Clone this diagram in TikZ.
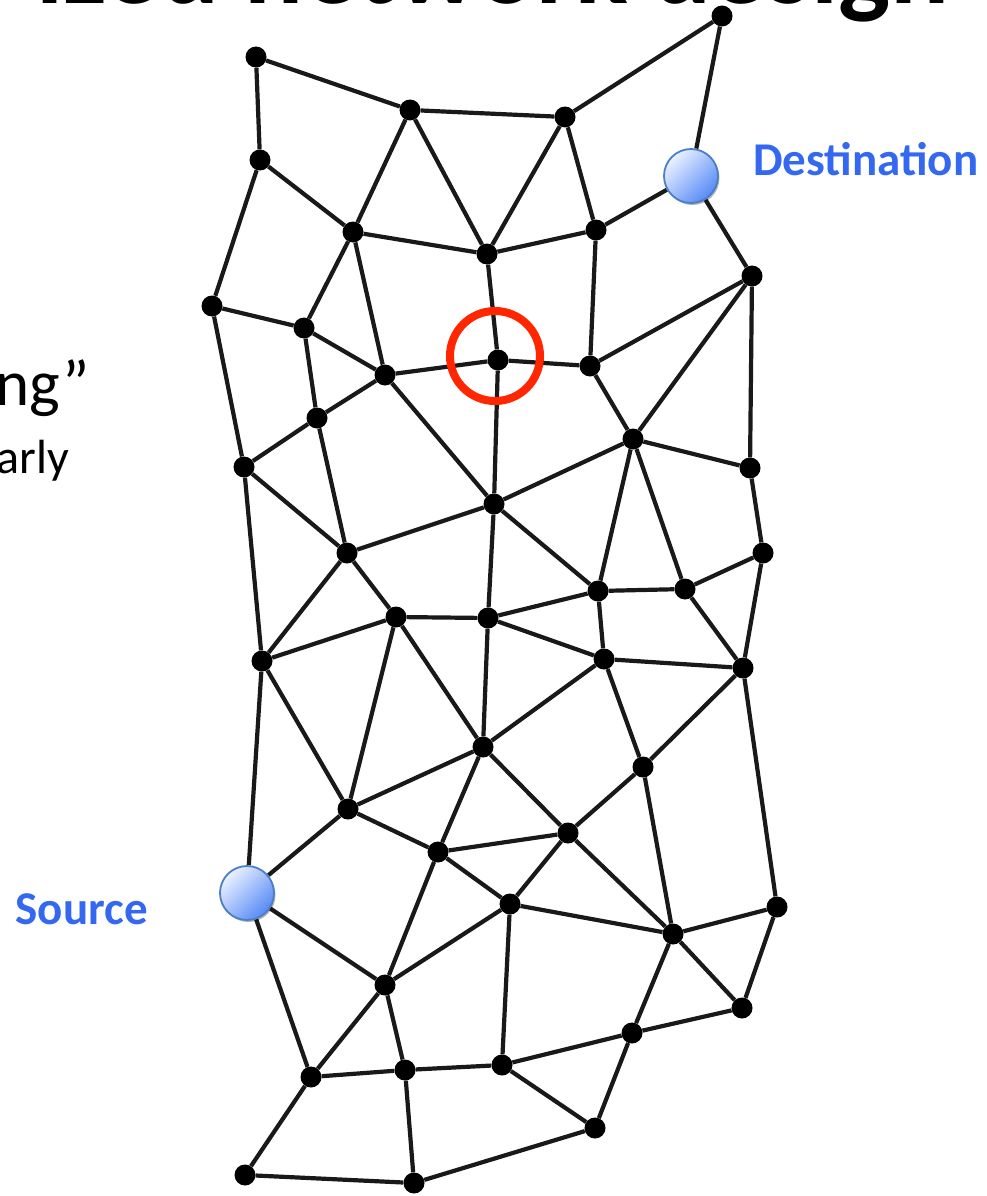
\documentclass[tikz,border=0pt]{standalone}
\usepackage{fontspec}
\setmainfont{Carlito}
\usetikzlibrary{backgrounds,shadows}

\definecolor{labelblue}{RGB}{52,104,240}
\definecolor{ringred}{RGB}{255,38,0}
\definecolor{discedge}{RGB}{74,126,200}
\definecolor{disclight}{RGB}{236,242,255}
\definecolor{discdark}{RGB}{86,138,245}

\tikzset{
  dot/.style={circle, fill=black, inner sep=0pt, minimum size=21pt},
  link/.style={line width=4.2pt, black!90},
  endpoint/.style={circle, inner sep=0pt, minimum size=54pt, draw=discedge,
    line width=1.8pt, top color=disclight, bottom color=discdark, shading angle=45,
    drop shadow={shadow xshift=1.5pt, shadow yshift=-2pt, opacity=0.3, fill=black}},
  tag/.style={font=\bfseries\fontsize{47}{52}\selectfont, text=labelblue, inner sep=0pt},
  bodytext/.style={inner sep=0pt, text=black},
}

\begin{document}
\begin{tikzpicture}[x=1pt,y=-1pt]
\useasboundingbox (0,0) rectangle (986,1196);

% heading, mostly above the page edge
\node[bodytext, anchor=base west, font=\bfseries\fontsize{110}{120}\selectfont] (title) at (36,4) {ized network design};

% text running in from the left margin
\node[bodytext, anchor=base east, font=\fontsize{65}{72}\selectfont] (line1) at (90,405) {ng”};
\node[bodytext, anchor=base east, font=\fontsize{48}{54}\selectfont] (line2) at (69,473) {arly};

% routers
\foreach \n/\x/\y in {
  A/256/57, B/410/110, C/565/117, D/722/16, E/260/160, F/353/232, G/487/254,
  H/596/230, I/752/276, J/212/306, K/304/328, L/385/375, M/498/360, N/590/366,
  O/317/418, P/633/439, Q/244/467, R/494/504, S/750/468, T/347/553, U/763/553,
  V/396/617, W/488/618, X/598/591, Y/685/589, Z/262/661, AA/604/659, AB/743/668,
  AC/483/747, AD/643/767, AE/348/809, AF/568/833, AG/438/852, AH/510/904,
  AI/673/934, AJ/777/907, AK/385/985, AL/742/1008, AM/311/1077, AN/405/1070,
  AO/502/1065, AP/632/1033, AQ/595/1128, AR/245/1175, AS/414/1183}
  \node[dot] (\n) at (\x,\y) {};

% end hosts
\node[endpoint] (dst) at (691,176) {};
\node[endpoint] (src) at (247,893) {};

\node[tag, anchor=base west] (dstlabel) at (753,175) {Destination};
\node[tag, anchor=base east] (srclabel) at (148,924) {Source};

% highlighted router
\node[circle, draw=ringred, line width=8pt, minimum size=90pt, inner sep=0pt] (ring) at (495,356) {};

\begin{pgfonlayer}{background}
  \fill[white] (0,0) rectangle (986,1196);
  \foreach \a/\b in {
    A/B, A/E, B/C, C/D, B/F, B/G, C/G, C/H, D/dst, E/F, E/J, F/G, F/K, F/L,
    G/H, G/M, H/dst, H/N, dst/I, I/N, I/P, I/S, J/K, J/Q, K/L, K/O, L/M, L/O,
    L/R, M/N, M/R, N/P, O/Q, O/T, Q/T, Q/Z, R/T, R/W, R/X, R/P, P/S, P/X, P/Y,
    S/U, T/V, T/Z, V/W, V/Z, V/AE, V/AC, W/X, W/AC, W/AA, X/Y, X/AA, Y/U, Y/AB,
    U/AB, Z/src, Z/AE, AA/AB, AA/AC, AA/AD, AB/AD, AB/AJ, AC/AE, AC/AG, AC/AF,
    AD/AF, AD/AI, AE/AG, AE/src, AF/AG, AF/AH, AF/AI, AG/AH, AG/AK, src/AK,
    src/AM, AH/AK, AH/AO, AH/AI, AI/AJ, AI/AL, AI/AP, AJ/AL, AL/AP, AK/AM,
    AK/AN, AM/AN, AN/AO, AO/AP, AO/AQ, AP/AQ, AM/AR, AR/AS, AN/AS, AS/AQ}
    \draw[link] (\a) -- (\b);
\end{pgfonlayer}
\end{tikzpicture}
\end{document}
